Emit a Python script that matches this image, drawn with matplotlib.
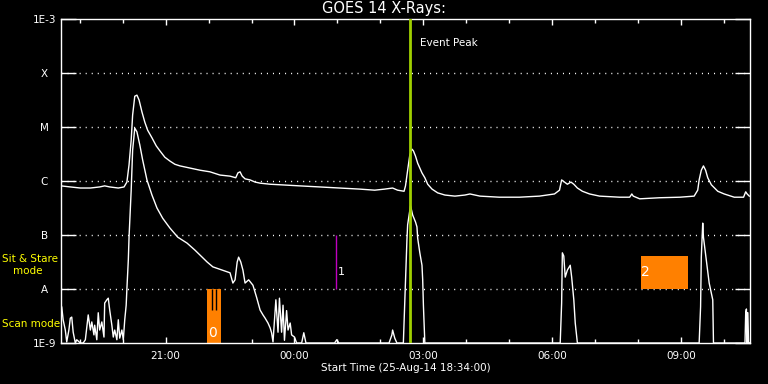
import matplotlib
matplotlib.use('Agg')
import matplotlib.pyplot as plt
from matplotlib.ticker import FixedLocator, NullLocator
import numpy as np

# minutes after start time (25-Aug-14 18:34:00), log10 flux in W/m^2
LONG_T = [0, 13, 27, 41, 54, 61, 68, 80, 88, 92, 95, 98, 100, 103, 106, 109, 113, 117, 121, 127,
          133, 138, 145, 152, 159, 166, 180, 194, 208, 222, 236, 244, 247, 250, 253, 257, 264, 271,
          278, 292, 306, 333, 361, 389, 417, 438, 452, 463, 470, 479, 481, 484, 487, 490, 492, 495,
          498, 501, 504, 508, 512, 518, 526, 536, 550, 564, 571, 585, 612, 640, 668, 689, 696, 699,
          703, 707, 712, 716, 721, 728, 738, 752, 780, 794, 797, 799, 808, 836, 864, 884, 889, 891,
          894, 897, 900, 903, 908, 917, 926, 940, 953, 956, 958, 961]
LONG_F = [-6.09, -6.11, -6.13, -6.13, -6.11, -6.09, -6.11, -6.13, -6.11, -6.02, -5.70, -5.24, -4.78,
          -4.43, -4.41, -4.50, -4.72, -4.91, -5.06, -5.20, -5.35, -5.44, -5.56, -5.63, -5.69, -5.72,
          -5.76, -5.80, -5.83, -5.89, -5.91, -5.94, -5.85, -5.83, -5.91, -5.96, -5.98, -6.02, -6.04,
          -6.06, -6.07, -6.09, -6.11, -6.13, -6.15, -6.17, -6.15, -6.13, -6.17, -6.19, -6.09, -5.80,
          -5.52, -5.41, -5.44, -5.54, -5.67, -5.76, -5.85, -5.94, -6.06, -6.15, -6.22, -6.26, -6.28,
          -6.26, -6.24, -6.28, -6.30, -6.30, -6.28, -6.24, -6.17, -5.98, -6.02, -6.06, -6.02, -6.06,
          -6.13, -6.19, -6.24, -6.28, -6.30, -6.30, -6.24, -6.28, -6.33, -6.31, -6.30, -6.28, -6.17,
          -5.98, -5.80, -5.72, -5.80, -5.94, -6.07, -6.19, -6.24, -6.30, -6.30, -6.20, -6.24, -6.28]

SHORT_T = [0, 1, 3, 6, 8, 11, 13, 15, 17, 20, 22, 27, 31, 34, 38, 41, 43, 46, 47, 50, 52, 54, 57, 60,
           61, 64, 66, 68, 71, 73, 75, 78, 80, 82, 85, 87, 89, 91, 92, 94, 95, 98, 100, 103, 106, 110,
           114, 120, 127, 134, 142, 152, 163, 176, 187, 194, 204, 212, 225, 236, 240, 243, 246, 248,
           251, 254, 257, 262, 268, 273, 278, 282, 285, 289, 292, 294, 296, 300, 303, 305, 308, 310,
           312, 315, 317, 320, 322, 326, 329, 336, 339, 342, 382, 385, 388, 458, 462, 463, 466, 469,
           478, 481, 483, 484, 487, 488, 491, 495, 497, 498, 501, 504, 505, 506, 508, 697, 698, 699,
           700, 702, 704, 707, 711, 713, 716, 718, 721, 891, 893, 894, 896, 897, 901, 905, 910, 911,
           955, 956, 957, 957.5, 958, 959, 960, 961]
SHORT_F = [-8.33, -8.33, -8.57, -8.76, -8.98, -8.76, -8.54, -8.52, -8.80, -9, -8.94, -9, -9, -8.94,
           -8.48, -8.76, -8.61, -8.85, -8.67, -8.94, -8.44, -8.76, -8.61, -8.89, -8.26, -8.20, -8.17,
           -8.39, -8.67, -8.89, -8.76, -8.94, -8.57, -8.91, -8.76, -8.94, -8.57, -8.30, -8.0, -7.46,
           -7.04, -6.17, -5.43, -5.02, -5.09, -5.33, -5.61, -5.98, -6.26, -6.50, -6.69, -6.87, -7.04,
           -7.15, -7.28, -7.37, -7.50, -7.59, -7.65, -7.70, -7.89, -7.83, -7.50, -7.41, -7.50, -7.65,
           -7.89, -7.83, -7.93, -8.15, -8.39, -8.48, -8.54, -8.63, -8.72, -8.81, -8.98, -8.20, -8.80,
           -8.17, -8.80, -8.30, -8.95, -8.40, -8.76, -8.63, -8.85, -8.89, -9, -9, -8.81, -9, -9, -8.94,
           -9, -9, -8.85, -8.76, -8.91, -9, -9, -7.85, -7.09, -6.81, -6.54, -6.46, -6.63, -6.76, -6.85,
           -7.06, -7.33, -7.56, -7.83, -8.30, -9, -9, -8.63, -8.26, -7.33, -7.39, -7.78, -7.65, -7.56,
           -7.78, -8.20, -8.63, -9, -9, -8.33, -7.41, -6.78, -7.04, -7.46, -7.89, -8.20, -9, -9, -8.44,
           -8.37, -9, -8.44, -8.44, -9, -9]

YTICKS = [1e-9, 1e-8, 1e-7, 1e-6, 1e-5, 1e-4, 1e-3]
YLABELS = ['1E-9', 'A', 'B', 'C', 'M', 'X', '1E-3']
XTICKS = [146, 326, 506, 686, 866]
XLABELS = ['21:00', '00:00', '03:00', '06:00', '09:00']
XMINOR = [26, 86, 146, 206, 266, 326, 386, 446, 506, 566, 626, 686, 746, 806, 866, 926]

EVENT_PEAK = 487
# observation periods: (start, end, flux low, flux high, label)
OBS = [(204, 223, 1e-9, 1e-8, '0'), (810, 875, 1e-8, 10 ** -7.39, '2')]
OBS0_SUB = [210.6, 216.2]
SIT1 = 384

fig = plt.figure(figsize=(7.68, 3.84), dpi=100, facecolor='black')
ax = fig.add_axes([61 / 768, 41 / 384, 689 / 768, 324 / 384])
ax.set_facecolor('black')
ax.set_yscale('log')
ax.set_xlim(0, 962)
ax.set_ylim(1e-9, 1e-3)

for lvl in YTICKS[1:-1]:
    ax.axhline(lvl, color='white', lw=1, ls=(0, (0.75, 3.6)), zorder=1)

orange = '#ff8000'
for t0, t1, f0, f1, lab in OBS:
    ax.fill_between([t0, t1], f0, f1, color=orange, lw=0, zorder=2)
ax.vlines(OBS0_SUB, 10 ** -8.39, 1e-8, color='black', lw=1, zorder=3)
ax.text(OBS[0][0] + 2, 10 ** -8.81, '0', color='white', fontsize=10, va='center', ha='left', zorder=4)
ax.text(OBS[1][0], 10 ** -7.69, '2', color='white', fontsize=10, va='center', ha='left', zorder=4)
ax.vlines(SIT1, 1e-8, 1e-7, color='#c000c0', lw=1, zorder=3)
ax.text(SIT1 + 2, 10 ** -7.69, '1', color='white', fontsize=8, va='center', ha='left', zorder=4)

ax.plot(LONG_T, 10 ** np.array(LONG_F), color='white', lw=1, zorder=5)
ax.plot(SHORT_T, 10 ** np.array(SHORT_F), color='white', lw=1, zorder=5)

ax.axvline(EVENT_PEAK, color='#a0d000', lw=2, zorder=6)
ax.text(EVENT_PEAK + 14, 10 ** -3.44, 'Event Peak', color='white', fontsize=7.5, va='center', ha='left')

for s in ax.spines.values():
    s.set_color('white')
    s.set_linewidth(1)

ax.yaxis.set_major_locator(FixedLocator(YTICKS))
ax.yaxis.set_minor_locator(NullLocator())
ax.set_yticklabels(YLABELS)
ax.tick_params(axis='y', which='major', direction='in', length=10.8, width=1, color='white',
               labelcolor='white', labelsize=7.5, right=True, pad=12)
for lab in ax.get_yticklabels():
    lab.set_horizontalalignment('center')

ax.xaxis.set_major_locator(FixedLocator(XTICKS))
ax.xaxis.set_minor_locator(FixedLocator(XMINOR))
ax.set_xticklabels(XLABELS)
ax.tick_params(axis='x', which='major', direction='in', length=4.5, width=1, color='white',
               labelcolor='white', labelsize=7.5, top=True, pad=6)
ax.tick_params(axis='x', which='minor', direction='in', length=2.6, width=1, color='white', top=True)

fig.text(0.5, 1 - 9 / 384, 'GOES 14 X-Rays:', color='white', fontsize=10.5, ha='center', va='center')
fig.text(405.5 / 768, 1 - 368 / 384, 'Start Time (25-Aug-14 18:34:00)', color='white', fontsize=7.5,
         ha='center', va='center')
fig.text(2 / 768, 1 - 259 / 384, 'Sit & Stare', color='yellow', fontsize=7.5, ha='left', va='center')
fig.text(13 / 768, 1 - 271 / 384, 'mode', color='yellow', fontsize=7.5, ha='left', va='center')
fig.text(2 / 768, 1 - 324 / 384, 'Scan mode', color='yellow', fontsize=7.5, ha='left', va='center')

fig.savefig('out.png', dpi=100, facecolor='black')
